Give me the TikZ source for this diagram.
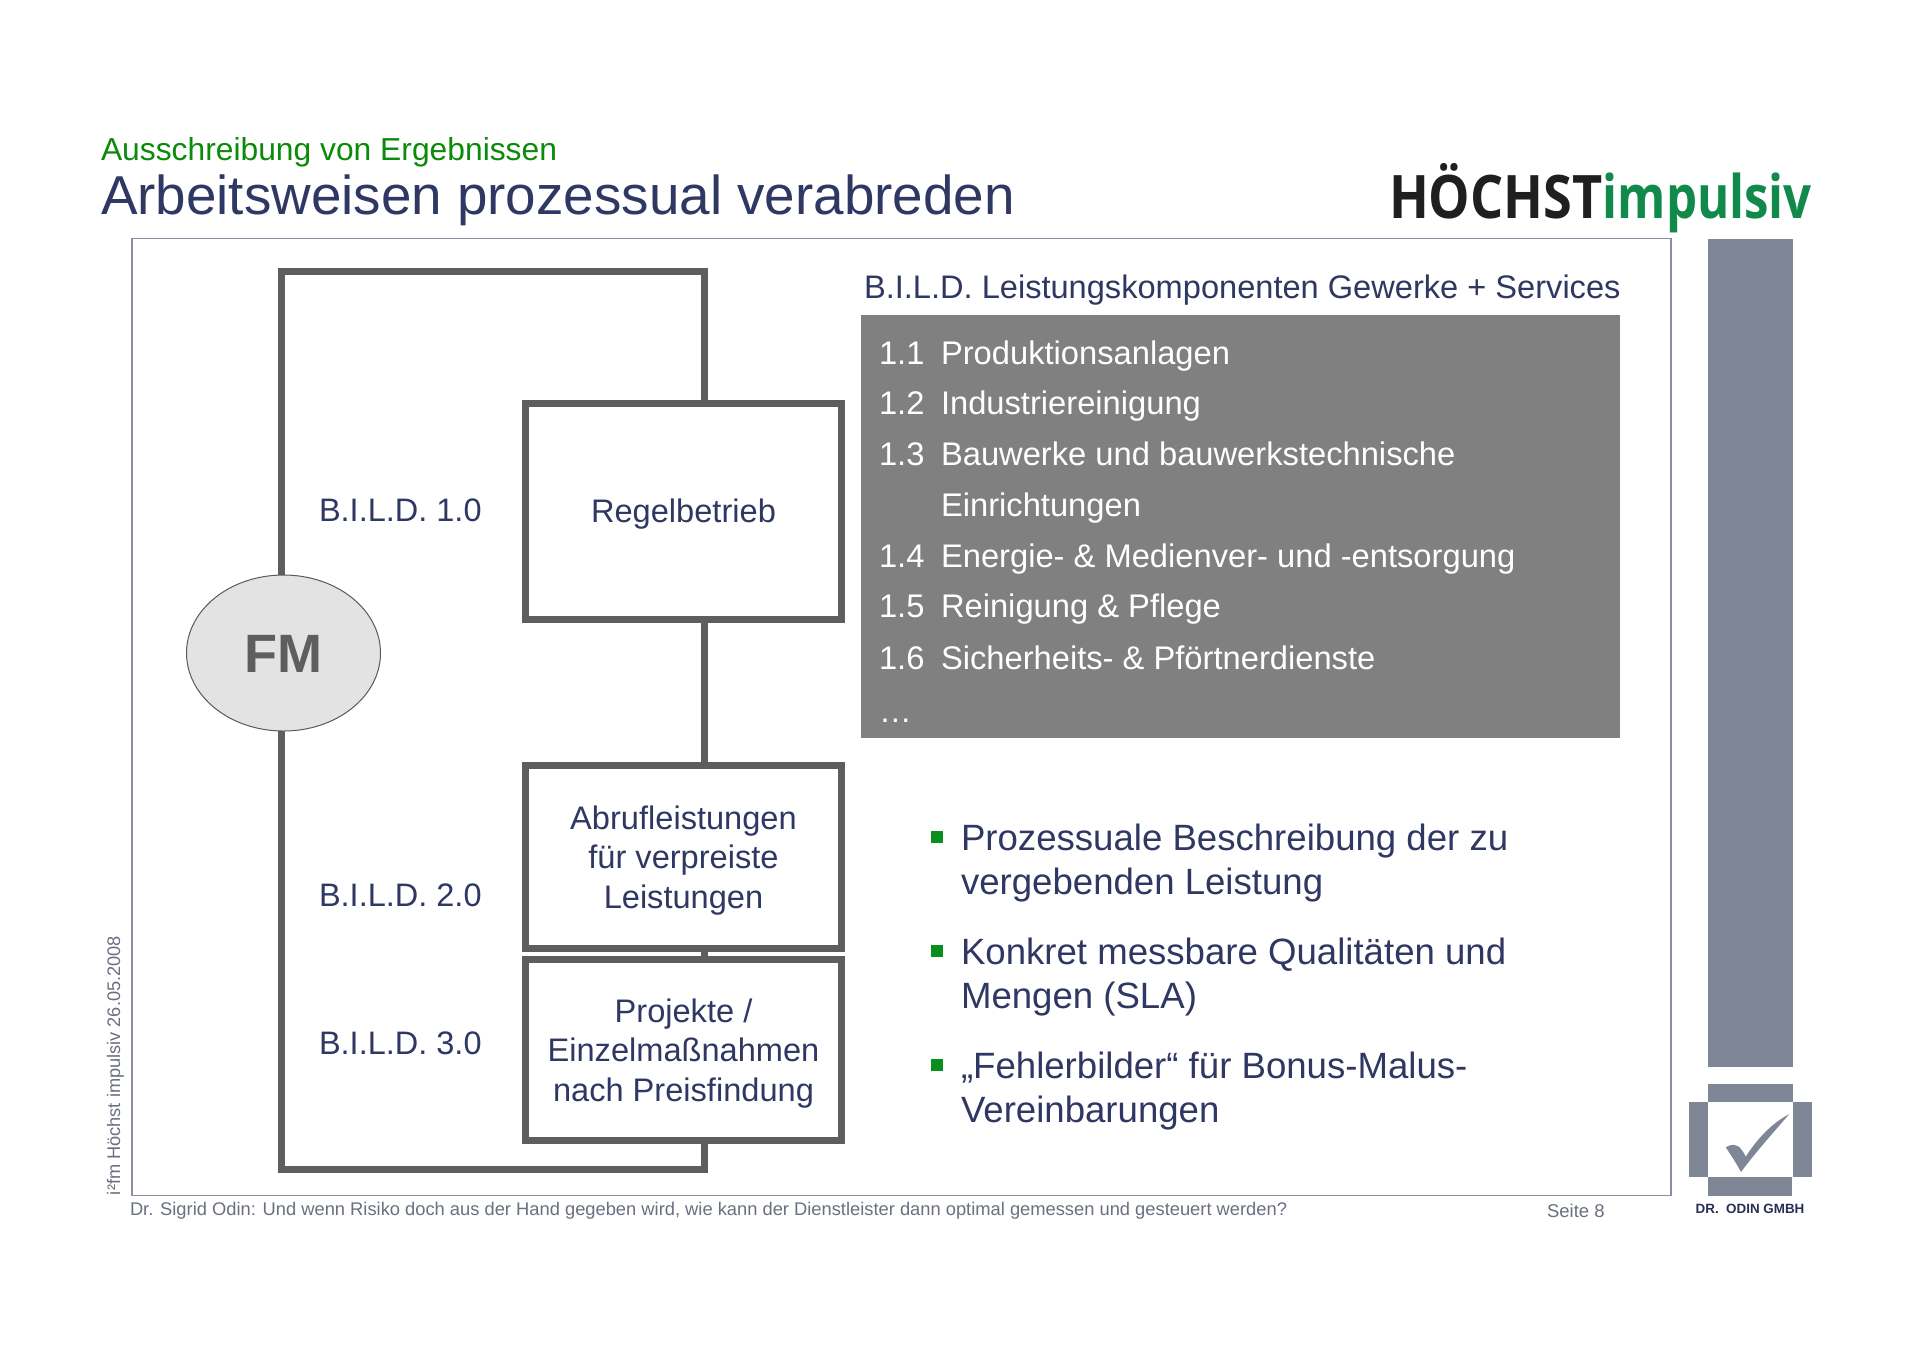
\documentclass[tikz,border=0pt]{standalone}
\usepackage{fontspec}
\setmainfont{Liberation Sans}
\newfontfamily\logofont{Open Sans}
\usetikzlibrary{shapes.geometric}
\definecolor{txtblue}{HTML}{2F3763}
\definecolor{titlegreen}{HTML}{0B8A0B}
\definecolor{bulletgreen}{HTML}{0A8F1E}
\definecolor{logogreen}{HTML}{10894A}
\definecolor{linegray}{HTML}{5E5E5E}
\definecolor{panelgray}{HTML}{808080}
\definecolor{slate}{HTML}{7F8797}
\definecolor{framecol}{HTML}{8A8FA3}
\definecolor{footgray}{HTML}{6A7080}
\newcommand\fs[2]{\fontsize{#1}{#2}\selectfont}
\tikzset{
  x=0.5pt,y=-0.5pt,
  every node/.style={inner sep=0pt,outer sep=0pt},
  lbl/.style={anchor=base west,text=txtblue},
  boxnode/.style={draw=linegray,line width=3.5pt,fill=white,minimum width=157.75pt},
  boxtext/.style={align=center,text=txtblue,font=\fs{16.3}{19.6}},
  conn/.style={draw=linegray,line width=3.5pt,line cap=butt,line join=miter},
  listrow/.style={anchor=base west,text=white,font=\fs{16.35}{19}},
  bul/.style={anchor=base west,text=txtblue,font=\fs{18.3}{22}},
  bulsq/.style={fill=bulletgreen,minimum width=6pt,minimum height=6pt}
}
\begin{document}
\begin{tikzpicture}
\useasboundingbox (0,0) rectangle (1920,1357);
\fill[white] (0,0) rectangle (1920,1357);

% titles
\node[anchor=base west,text=titlegreen,font=\fs{15.9}{19}] (sub) at (101,160) {Ausschreibung von Ergebnissen};
\node[anchor=base west,text=txtblue,font=\fs{27.4}{30}] (title) at (101,214) {Arbeitsweisen prozessual verabreden};
\node[anchor=base west,font=\logofont\bfseries\fs{30}{32}] (logo) at (1389,218) {\scalebox{0.87}[1]{\textcolor{black!88}{HÖCHST}}\scalebox{0.82}[1]{\textcolor{logogreen}{impulsiv}}};

% frame
\node[draw=framecol,line width=0.9pt,minimum width=769.5pt,minimum height=478.5pt] (frame) at (901.5,717) {};

% boxes
\node[boxnode,minimum height=108pt] (box1) at (683.25,511) {};
\node[boxnode,minimum height=91.75pt] (box2) at (683.25,857) {};
\node[boxnode,minimum height=90.25pt] (box3) at (683.25,1050) {};
\node[boxtext] (t1) at (683.5,514.5) {Regelbetrieb};
\node[boxtext] (t2) at (683.5,860.5) {Abrufleistungen\\für verpreiste\\Leistungen};
\node[boxtext] (t3) at (683.5,1053.5) {Projekte /\\Einzelmaßnahmen\\nach Preisfindung};

% connectors
\coordinate (topline) at (704,271);
\coordinate (botline) at (704,1169);
\coordinate (leftline) at (281.5,653);
\draw[conn] (box1.north -| topline) -- (topline) -- (topline -| leftline) -- (leftline);
\draw[conn] (leftline) -- (botline -| leftline) -- (botline) -- (box3.south -| botline);
\draw[conn] (box1.south -| topline) -- (box2.north -| topline);
\draw[conn] (box2.south -| topline) -- (box3.north -| topline);
\node[draw=black!65,line width=0.5pt,fill=black!11,ellipse,minimum width=97pt,minimum height=78pt] (fm) at (283.5,653) {};
\node[text=linegray,font=\bfseries\fs{27}{30}] (fmt) at (283.5,654) {FM};

% BILD labels
\node[lbl,font=\fs{16.25}{19}] (l1) at (319,521) {B.I.L.D. 1.0};
\node[lbl,font=\fs{16.25}{19}] (l2) at (319,906) {B.I.L.D. 2.0};
\node[lbl,font=\fs{16.25}{19}] (l3) at (319,1054) {B.I.L.D. 3.0};

% panel
\node[lbl,font=\fs{16.3}{20}] (head) at (864,298) {B.I.L.D. Leistungskomponenten Gewerke + Services};
\node[fill=panelgray,minimum width=379.5pt,minimum height=211.5pt] (panel) at (1240.25,526) {};
\foreach \n/\yy/\num/\t in {a/364/1.1/Produktionsanlagen,b/414/1.2/Industriereinigung,c/465/1.3/Bauwerke und bauwerkstechnische,e/567/1.4/Energie- \& Medienver- und -entsorgung,f/617/1.5/Reinigung \& Pflege,g/669/1.6/Sicherheits- \& Pförtnerdienste}{
  \node[listrow] (num\n) at (879,\yy) {\num};
  \node[listrow] (row\n) at (941,\yy) {\t};
}
\node[listrow] (rowd) at (941,516) {Einrichtungen};
\node[listrow] (rowh) at (879,722) {…};

% bullets
\node[bulsq] (s1) at (936.5,837) {};
\node[bulsq] (s2) at (936.5,951) {};
\node[bulsq] (s3) at (936.5,1065) {};
\node[bul] (b1a) at (961,850) {Prozessuale Beschreibung der zu};
\node[bul] (b1b) at (961,894) {vergebenden Leistung};
\node[bul] (b2a) at (961,964) {Konkret messbare Qualitäten und};
\node[bul] (b2b) at (961,1008) {Mengen (SLA)};
\node[bul] (b3a) at (961,1078) {„Fehlerbilder“ für Bonus-Malus-};
\node[bul] (b3b) at (961,1122) {Vereinbarungen};

% right bar and logo
\fill[slate] (1708,239) rectangle (1793,1067);
\fill[slate] (1708,1084) rectangle (1793,1102);
\fill[slate] (1689,1102) rectangle (1708,1177);
\fill[slate] (1793,1102) rectangle (1812,1177);
\fill[slate] (1708,1177) rectangle (1792,1196);
\fill[slate] (1725.7,1147.3) .. controls (1731,1144) and (1737,1143) .. (1741.7,1150)
  .. controls (1743.5,1152) and (1744.7,1154.5) .. (1745.7,1156.7)
  .. controls (1755,1142) and (1770,1124) .. (1789.3,1114)
  .. controls (1772,1134) and (1755,1153) .. (1741,1172)
  .. controls (1736,1163) and (1731,1155) .. (1725.7,1147.3) -- cycle;
\node[text=txtblue!85!black,font=\bfseries\fs{6.7}{8}] (odin) at (1750,1209) {DR.\ \ ODIN GMBH};

% footers
\node[anchor=base west,text=footgray,font=\fs{9.16}{11}] (foot) at (130,1215) {Dr. Sigrid Odin: Und wenn Risiko doch aus der Hand gegeben wird, wie kann der Dienstleister dann optimal gemessen und gesteuert werden?};
\node[anchor=base west,text=footgray,font=\fs{9.25}{11}] (page) at (1547,1217) {Seite 8};
\node[anchor=base west,rotate=90,text=footgray,font=\fs{9.1}{11}] (stamp) at (120,1195) {i²fm Höchst impulsiv 26.05.2008};
\end{tikzpicture}
\end{document}
